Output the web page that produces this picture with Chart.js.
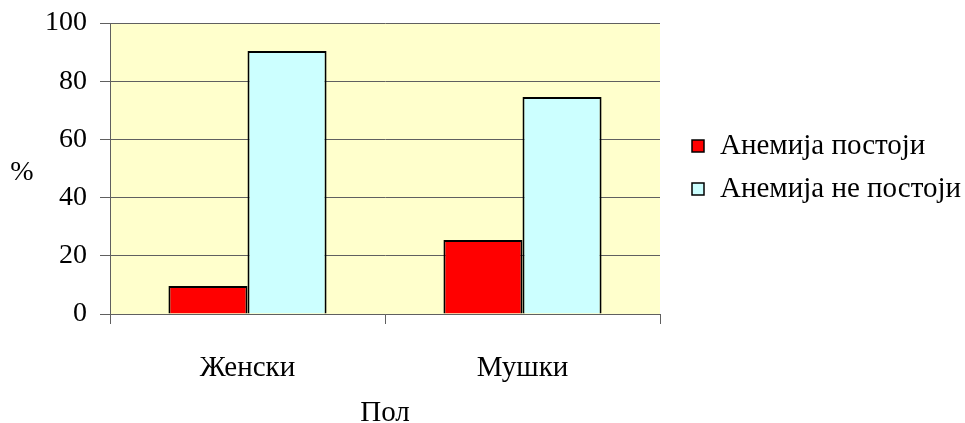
<!DOCTYPE html>
<html>
<head>
<meta charset="utf-8">
<script src="https://cdn.jsdelivr.net/npm/chart.js@4.4.1/dist/chart.umd.min.js"></script>
<style>
  html, body { margin: 0; padding: 0; background: #ffffff; }
  #wrap { width: 965px; height: 423px; }
</style>
</head>
<body>
<div id="wrap"><canvas id="c" width="965" height="423"></canvas></div>
<script>
// Anaemia by sex, percent
const categories = ['Женски', 'Мушки'];
const anaemiaPresent = [9.6, 25.4];
const anaemiaAbsent = [90.4, 74.6];
const seriesNames = ['Анемија постоји', 'Анемија не постоји'];
const yTicks = [0, 20, 40, 60, 80, 100];

const FONT = "'Liberation Serif', 'Times New Roman', serif";
const FS_TICK = 28;
const FS = 29;

// yellow plot background, upright "%" label and a right-hand legend
const decor = {
  id: 'decor',
  beforeDraw(chart) {
    const { ctx, chartArea: a } = chart;
    ctx.save();
    ctx.fillStyle = '#FFFFCC';
    ctx.fillRect(a.left, a.top, a.right - a.left, a.bottom - a.top);
    ctx.restore();
  },
  afterDraw(chart) {
    const { ctx, chartArea: a } = chart;
    ctx.save();
    ctx.font = FS_TICK + 'px ' + FONT;
    ctx.fillStyle = '#000';
    ctx.textBaseline = 'middle';
    ctx.textAlign = 'center';
    ctx.fillText('%', 22, (a.top + a.bottom) / 2 + 4);
    ctx.font = FS + 'px ' + FONT;
    ctx.textAlign = 'left';
    chart.data.datasets.forEach((ds, i) => {
      const y = 146 + i * 43;
      const bx = a.right + 32;
      ctx.fillStyle = ds.backgroundColor;
      ctx.fillRect(bx, y - 6, 12, 12);
      ctx.strokeStyle = '#000';
      ctx.lineWidth = 1.5;
      ctx.strokeRect(bx, y - 6, 12, 12);
      ctx.fillStyle = '#000';
      ctx.fillText(ds.label, bx + 28, y);
    });
    ctx.restore();
  }
};

new Chart(document.getElementById('c'), {
  type: 'bar',
  data: {
    labels: categories,
    datasets: [
      { label: seriesNames[0], data: anaemiaPresent, backgroundColor: '#FF0000', borderColor: '#000000', borderWidth: 2 },
      { label: seriesNames[1], data: anaemiaAbsent, backgroundColor: '#CCFFFF', borderColor: '#000000', borderWidth: 2 }
    ]
  },
  options: {
    responsive: false,
    animation: false,
    devicePixelRatio: 1,
    layout: { padding: { top: 23, right: 305, left: 0, bottom: 0 } },
    datasets: { bar: { categoryPercentage: 0.575, barPercentage: 1 } },
    plugins: { legend: { display: false }, tooltip: { enabled: false } },
    scales: {
      x: {
        grid: { display: true, drawOnChartArea: false, drawTicks: true, tickLength: 10, color: '#606060', offset: true },
        border: { display: true, color: '#606060' },
        ticks: { color: '#000', font: { family: FONT, size: FS }, padding: 27 },
        title: { display: true, text: 'Пол', color: '#000', font: { family: FONT, size: FS, lineHeight: 1 }, padding: { top: 0, bottom: -5 } },
        afterFit(s) { s.height = 109; s.paddingLeft = 0; s.paddingRight = 0; }
      },
      y: {
        min: 0, max: 100,
        afterBuildTicks(s) { s.ticks = yTicks.map(v => ({ value: v })); },
        grid: { color: '#606060', tickLength: 10, drawTicks: true },
        border: { display: true, color: '#606060' },
        ticks: { color: '#000', font: { family: FONT, size: FS_TICK }, padding: 13 },
        afterFit(s) { s.width = 110; s.paddingTop = 0; s.paddingBottom = 0; }
      }
    }
  },
  plugins: [decor]
});
</script>
</body>
</html>
